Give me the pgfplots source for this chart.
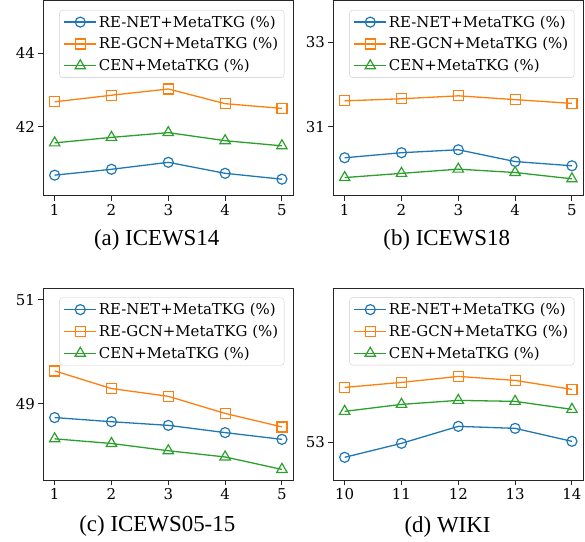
\documentclass[border=0pt]{standalone}
\usepackage{fontspec}
\setmainfont{Liberation Serif}
\newfontfamily\dvs{DejaVu Serif}
\usepackage{pgfplots}
\pgfplotsset{compat=1.18}
\definecolor{c1}{HTML}{1F77B4}
\definecolor{c2}{HTML}{FF7F0E}
\definecolor{c3}{HTML}{2CA02C}
\pgfplotsset{
  myax/.style={scale only axis, width=250bp, anchor=south west,
    xmin=0.8, xmax=5.2, xtick={1,2,3,4,5},
    axis line style={line width=1bp, black!85},
    tick align=outside, xtick pos=bottom, ytick pos=left,
    major tick length=5bp, tick style={line width=1bp, black!85},
    tick label style={font=\dvs\fontsize{15}{15}\selectfont},
    /pgf/number format/assume math mode=true,
    legend cell align=left,
    legend style={at={(1,1)}, anchor=north east, xshift=-9bp, yshift=-9bp,
      draw=black!20, rounded corners=3bp, fill=white,
      font=\dvs\fontsize{15}{15}\selectfont,
      row sep=5bp, inner xsep=4bp, inner ysep=3.5bp},
    legend image code/.code={\draw[mark repeat=2, mark phase=2, #1] plot coordinates {(0bp,0bp) (16bp,0bp) (32bp,0bp)};},
  },
  s1/.style={color=c1, line width=1.3bp, mark=o, mark size=5bp, mark options={fill=white, line width=1.2bp}},
  s2/.style={color=c2, line width=1.3bp, mark=square, mark size=5bp, mark options={fill=white, line width=1.2bp}},
  s3/.style={color=c3, line width=1.3bp, mark=triangle, mark size=6bp, mark options={fill=white, line width=1.2bp}},
}
\begin{document}
\begin{tikzpicture}
\path[use as bounding box] (0,0) rectangle (585bp,542bp);
% (a)
\begin{axis}[myax, at={(43.3bp,346.3bp)}, height=194.7bp, ymin=40.12, ymax=45.43, ytick={42,44}]
\addplot[s1] coordinates {(1,40.68) (2,40.84) (3,41.03) (4,40.73) (5,40.57)};
\addplot[s2] coordinates {(1,42.68) (2,42.86) (3,43.03) (4,42.63) (5,42.50)};
\addplot[s3] coordinates {(1,41.56) (2,41.71) (3,41.84) (4,41.62) (5,41.48)};
\legend{RE-NET+MetaTKG (\%), RE-GCN+MetaTKG (\%), CEN+MetaTKG (\%)}
\end{axis}
% (b)
\begin{axis}[myax, at={(333.3bp,346.3bp)}, height=194.7bp, ymin=29.36, ymax=33.98, ytick={31,33}]
\addplot[s1] coordinates {(1,30.26) (2,30.38) (3,30.45) (4,30.17) (5,30.07)};
\addplot[s2] coordinates {(1,31.61) (2,31.66) (3,31.73) (4,31.64) (5,31.55)};
\addplot[s3] coordinates {(1,29.79) (2,29.89) (3,29.99) (4,29.91) (5,29.76)};
\legend{RE-NET+MetaTKG (\%), RE-GCN+MetaTKG (\%), CEN+MetaTKG (\%)}
\end{axis}
% (c)
\begin{axis}[myax, at={(43.3bp,61.7bp)}, height=191.8bp, ymin=47.52, ymax=51.22, ytick={49,51}]
\addplot[s1] coordinates {(1,48.73) (2,48.65) (3,48.58) (4,48.44) (5,48.31)};
\addplot[s2] coordinates {(1,49.63) (2,49.29) (3,49.14) (4,48.81) (5,48.55)};
\addplot[s3] coordinates {(1,48.32) (2,48.23) (3,48.09) (4,47.97) (5,47.73)};
\legend{RE-NET+MetaTKG (\%), RE-GCN+MetaTKG (\%), CEN+MetaTKG (\%)}
\end{axis}
% (d)
\begin{axis}[myax, at={(333.3bp,61.7bp)}, height=191.8bp, xmin=9.8, xmax=14.2, xtick={10,11,12,13,14}, ymin=52.62, ymax=54.54, ytick={53}]
\addplot[s1] coordinates {(10,52.85) (11,52.99) (12,53.16) (13,53.14) (14,53.01)};
\addplot[s2] coordinates {(10,53.55) (11,53.60) (12,53.66) (13,53.62) (14,53.53)};
\addplot[s3] coordinates {(10,53.31) (11,53.38) (12,53.42) (13,53.41) (14,53.33)};
\legend{RE-NET+MetaTKG (\%), RE-GCN+MetaTKG (\%), CEN+MetaTKG (\%)}
\end{axis}
\node[font=\fontsize{23}{23}\selectfont] at (156.7bp,302bp) {(a) ICEWS14};
\node[font=\fontsize{23}{23}\selectfont] at (446.7bp,302bp) {(b) ICEWS18};
\node[font=\fontsize{23}{23}\selectfont] at (157.3bp,16bp) {(c) ICEWS05-15};
\node[font=\fontsize{23}{23}\selectfont] at (447.5bp,15bp) {(d) WIKI};
\end{tikzpicture}
\end{document}
